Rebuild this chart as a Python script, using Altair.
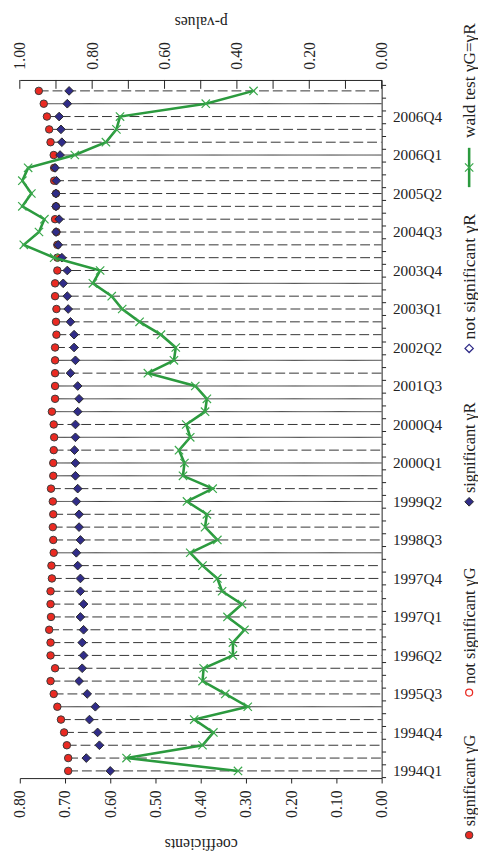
import json
import altair as alt
import pandas as pd

quarters = [
    "1994Q1", "1994Q2", "1994Q3", "1994Q4", "1995Q1", "1995Q2", "1995Q3", "1995Q4",
    "1996Q1", "1996Q2", "1996Q3", "1996Q4", "1997Q1", "1997Q2", "1997Q3", "1997Q4",
    "1998Q1", "1998Q2", "1998Q3", "1998Q4", "1999Q1", "1999Q2", "1999Q3", "1999Q4",
    "2000Q1", "2000Q2", "2000Q3", "2000Q4", "2001Q1", "2001Q2", "2001Q3", "2001Q4",
    "2002Q1", "2002Q2", "2002Q3", "2002Q4", "2003Q1", "2003Q2", "2003Q3", "2003Q4",
    "2004Q1", "2004Q2", "2004Q3", "2004Q4", "2005Q1", "2005Q2", "2005Q3", "2005Q4",
    "2006Q1", "2006Q2", "2006Q3", "2006Q4", "2007Q1", "2007Q2",
]

# coefficient gamma G (red circles), 1994Q1 -> 2007Q2
gamma_g = [
    0.693, 0.693, 0.696, 0.702, 0.709, 0.717, 0.725, 0.732, 0.722, 0.732,
    0.732, 0.735, 0.731, 0.732, 0.732, 0.729, 0.730, 0.725, 0.726, 0.727,
    0.726, 0.727, 0.731, 0.726, 0.726, 0.725, 0.724, 0.725, 0.729, 0.722,
    0.722, 0.722, 0.722, 0.722, 0.719, 0.720, 0.719, 0.722, 0.722, 0.717,
    0.717, 0.717, 0.719, 0.722, 0.720, 0.720, 0.724, 0.724, 0.725, 0.732,
    0.735, 0.740, 0.747, 0.758,
]

# coefficient gamma R (navy diamonds)
gamma_r = [
    0.600, 0.653, 0.624, 0.628, 0.646, 0.633, 0.651, 0.669, 0.662, 0.659,
    0.662, 0.659, 0.666, 0.659, 0.666, 0.666, 0.672, 0.675, 0.666, 0.669,
    0.669, 0.675, 0.672, 0.677, 0.677, 0.679, 0.677, 0.677, 0.672, 0.669,
    0.672, 0.688, 0.677, 0.680, 0.680, 0.688, 0.693, 0.695, 0.704, 0.695,
    0.707, 0.715, 0.720, 0.713, 0.720, 0.720, 0.719, 0.722, 0.711, 0.707,
    0.709, 0.713, 0.695, 0.691,
]

# p-values of the wald test gammaG = gammaR
wald_p = [
    0.397, 0.705, 0.495, 0.465, 0.518, 0.370, 0.432, 0.495, 0.492, 0.411,
    0.411, 0.379, 0.426, 0.386, 0.441, 0.454, 0.495, 0.529, 0.454, 0.488,
    0.483, 0.538, 0.467, 0.549, 0.545, 0.560, 0.529, 0.540, 0.488, 0.483,
    0.515, 0.646, 0.574, 0.569, 0.610, 0.669, 0.717, 0.746, 0.798, 0.778,
    0.905, 0.989, 0.947, 0.932, 0.993, 0.968, 0.993, 0.977, 0.848, 0.762,
    0.733, 0.723, 0.486, 0.354,
]

# row line style: "s" solid, "d" dashed
line_style = [
    "d", "d", "d", "d", "d", "s", "d", "d", "d", "d",
    "d", "d", "d", "d", "d", "d", "d", "s", "d", "d",
    "d", "s", "d", "s", "s", "d", "s", "d", "s", "s",
    "s", "d", "s", "d", "d", "d", "d", "d", "s", "d",
    "d", "d", "d", "d", "d", "d", "d", "d", "s", "d",
    "d", "d", "s", "d",
]

coef_ticks = [0.0, 0.1, 0.2, 0.3, 0.4, 0.5, 0.6, 0.7, 0.8]
p_ticks = [0.0, 0.1, 0.2, 0.3, 0.4, 0.5, 0.6, 0.7, 0.8, 0.9, 1.0]

legend_labels = [
    "significant \u03b3G",
    "not significant \u03b3G",
    "significant \u03b3R",
    "not significant \u03b3R",
    "wald test \u03b3G=\u03b3R",
]

RED = "#ea2a22"
NAVY = "#302c88"
GREEN = "#2b9a3e"
INK = "#222222"
FONT = "Liberation Serif"

n = len(quarters)
df = pd.DataFrame({
    "idx": list(range(n)),
    "quarter": quarters,
    "gG": gamma_g,
    "gR": gamma_r,
    "p": wald_p,
    "style": line_style,
})

row_ticks = [i + 0.5 for i in range(-1, n)]
label_expr = (
    f"((datum.value - 0.5) % 3 == 0 && datum.value < {n}) ? "
    f"{json.dumps(quarters)}[datum.value - 0.5] : ''"
)

y_enc = alt.Y(
    "idx:Q",
    scale=alt.Scale(domain=[-0.56, 53.85], nice=False, zero=False),
    axis=alt.Axis(
        orient="right", values=row_ticks, labelExpr=label_expr, labelOffset=6.5,
        tickSize=4, labelPadding=7, grid=False, title=None, labelOverlap=False,
        labelFontSize=15.5, labelFlush=False, labelBound=False,
    ),
)

x_coef = alt.X(
    "gG:Q",
    scale=alt.Scale(domain=[0, 0.8], reverse=True, nice=False, zero=False),
    axis=alt.Axis(
        orient="bottom", values=coef_ticks, format=".2f", labelAngle=270,
        tickSize=5, labelPadding=7, grid=False, title="coefficients",
        titleAngle=180, titleBaseline="bottom", titlePadding=18,
        labelFlush=False, labelOverlap=False,
    ),
)

base = alt.Chart(df)

rows = base.mark_rule(color="#333333", strokeWidth=1).encode(
    x=x_coef,
    x2=alt.datum(0),
    y=y_enc,
    strokeDash=alt.StrokeDash(
        "style:N",
        scale=alt.Scale(domain=["s", "d"], range=[[1, 0], [10, 4]]),
        legend=None,
    ),
)

red_pts = base.mark_point(
    shape="circle", filled=True, fill=RED, stroke="#3a3a3a", strokeWidth=1,
    size=58, opacity=1,
).encode(x=alt.X("gG:Q"), y=y_enc)

navy_pts = base.mark_point(
    shape="diamond", filled=True, fill=NAVY, stroke="#2a2a2a", strokeWidth=1,
    size=78, opacity=1,
).encode(x=alt.X("gR:Q"), y=y_enc)

coef_group = alt.layer(rows, red_pts, navy_pts)

x_p = alt.X(
    "p:Q",
    scale=alt.Scale(domain=[0, 1], reverse=True, nice=False, zero=False),
    axis=alt.Axis(
        orient="top", values=p_ticks, format=".2f", labelAngle=270,
        ticks=False, labelPadding=11, grid=False, title="p-values",
        titleAngle=180, titleBaseline="top", titlePadding=13,
        labelFlush=False, labelOverlap=False,
    ),
)

green_line = base.mark_line(color=GREEN, strokeWidth=2.6).encode(
    x=x_p, y=y_enc, order=alt.Order("idx:Q")
)

XSHAPE = "M-1,-1L1,1M-1,1L1,-1"
green_pts = base.mark_point(
    shape=XSHAPE, filled=False, stroke="#3aa84c", strokeWidth=1.2, size=72, opacity=1,
).encode(x=alt.X("p:Q"), y=y_enc)

top_ticks = alt.Chart(pd.DataFrame({"p": p_ticks})).mark_rule(
    color=INK, strokeWidth=1
).encode(x=alt.X("p:Q"), y=alt.value(0), y2=alt.value(9))

p_group = alt.layer(green_line, green_pts, top_ticks)

# manual legend (rotated text, on the right)
LX = 457
leg_sym_y = [768, 623, 429, 273, 89]
leg_txt_y = [759, 614, 420, 264, 59]
leg_font = [16.5, 16.5, 16.5, 18, 17.5]
one = pd.DataFrame({"k": [0]})

legend_layers = []
legend_layers.append(alt.Chart(one).mark_point(
    shape="circle", filled=True, fill=RED, stroke="#3a3a3a", strokeWidth=1, size=58, opacity=1
).encode(x=alt.value(LX), y=alt.value(leg_sym_y[0])))
legend_layers.append(alt.Chart(one).mark_point(
    shape="circle", filled=False, stroke=RED, strokeWidth=1.3, size=50, opacity=1
).encode(x=alt.value(LX), y=alt.value(leg_sym_y[1])))
legend_layers.append(alt.Chart(one).mark_point(
    shape="diamond", filled=True, fill=NAVY, stroke="#2a2a2a", strokeWidth=1, size=78, opacity=1
).encode(x=alt.value(LX), y=alt.value(leg_sym_y[2])))
legend_layers.append(alt.Chart(one).mark_point(
    shape="diamond", filled=False, stroke=NAVY, strokeWidth=1.3, size=70, opacity=1
).encode(x=alt.value(LX), y=alt.value(leg_sym_y[3])))
legend_layers.append(alt.Chart(one).mark_rule(color=GREEN, strokeWidth=2.6).encode(
    x=alt.value(LX), y=alt.value(leg_sym_y[4] - 20), y2=alt.value(leg_sym_y[4] + 20)))
legend_layers.append(alt.Chart(one).mark_point(
    shape=XSHAPE, filled=False, stroke="#3aa84c", strokeWidth=1.2, size=72, opacity=1
).encode(x=alt.value(LX), y=alt.value(leg_sym_y[4])))

for lab, ty, fs in zip(legend_labels, leg_txt_y, leg_font):
    legend_layers.append(
        alt.Chart(pd.DataFrame({"label": [lab]})).mark_text(
            angle=270, align="left", baseline="middle", fontSize=fs, font=FONT, color=INK
        ).encode(text="label:N", x=alt.value(LX + 1), y=alt.value(ty))
    )

chart = alt.layer(coef_group, p_group, *legend_layers).resolve_scale(
    x="independent"
).properties(
    width=368,
    height=710,
    autosize=alt.AutoSizeParams(type="none"),
    padding={"left": 12, "top": 66, "right": 98, "bottom": 70},
).configure(font=FONT).configure_view(stroke=None).configure_axis(
    labelFont=FONT, titleFont=FONT, labelFontSize=16, titleFontSize=16,
    labelColor=INK, titleColor=INK, titleFontWeight="normal",
    domainColor=INK, tickColor=INK, domainWidth=1, tickWidth=1,
    labelOverlap=False,
)

chart.save("out.html", embed_options={"renderer": "svg", "actions": False})
